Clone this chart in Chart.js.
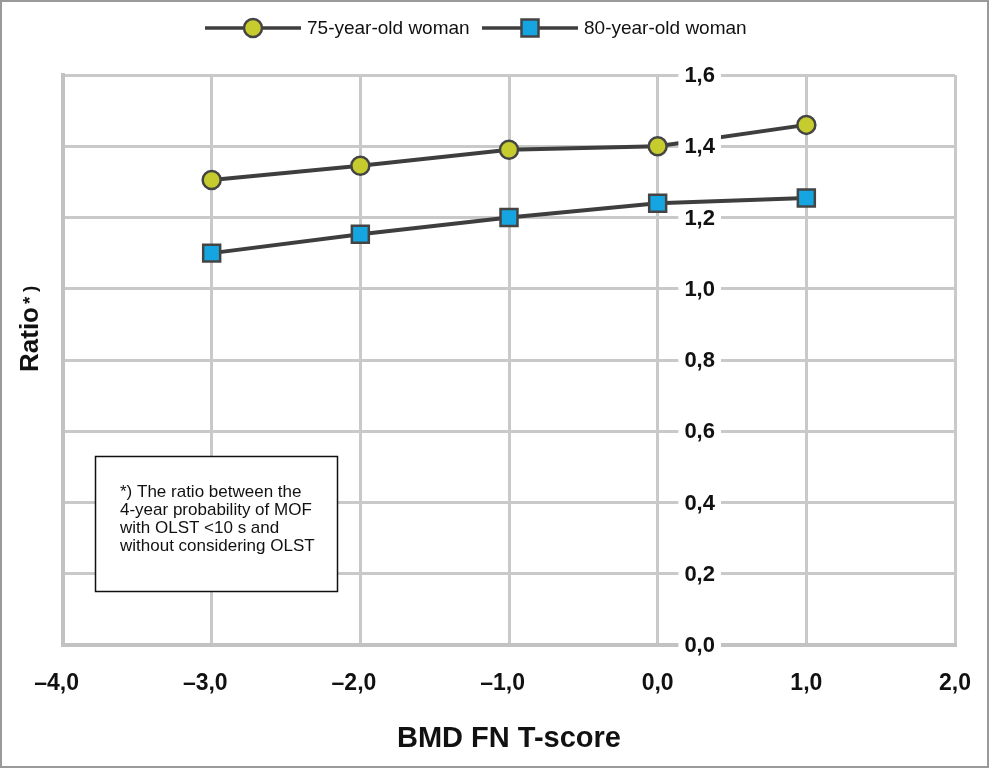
<!DOCTYPE html>
<html>
<head>
<meta charset="utf-8">
<script src="https://cdn.jsdelivr.net/npm/chart.js@4.4.1/dist/chart.umd.min.js"></script>
<style>
  html, body { margin: 0; padding: 0; background: #fff; }
  canvas { display: block; }
</style>
</head>
<body>
<canvas id="ratioChart" width="989" height="768"></canvas>
<script>
// T-score positions and read-off ratios
var tScores = [-3, -2, -1, 0, 1];
var woman75 = [1.305, 1.345, 1.39, 1.40, 1.46];
var woman80 = [1.10, 1.153, 1.20, 1.24, 1.255];
var seriesNames = ['75-year-old woman', '80-year-old woman'];
var xTickLabels = ['\u20134,0', '\u20133,0', '\u20132,0', '\u20131,0', '0,0', '1,0', '2,0'];
var yTickLabels = ['0,0', '0,2', '0,4', '0,6', '0,8', '1,0', '1,2', '1,4', '1,6'];
var noteLines = ['*) The ratio between the', '4-year probability of MOF', 'with OLST <10 s and', 'without considering OLST'];

var FONT = "'Liberation Sans', Arial, Helvetica, sans-serif";
Chart.defaults.font.family = FONT;
Chart.defaults.color = '#111';

function toPoints(ys) {
  return tScores.map(function (x, i) { return { x: x, y: ys[i] }; });
}

var gridGrey = '#c9c9c9';

var extras = {
  id: 'extras',
  afterDraw: function (chart) {
    var ctx = chart.ctx;
    var xs = chart.scales.x, ys = chart.scales.y;
    ctx.save();

    // y tick labels sitting next to the x = 0 axis
    var axisX = xs.getPixelForValue(0);
    ctx.font = 'bold 22px ' + FONT;
    ctx.textAlign = 'center';
    ctx.textBaseline = 'middle';
    ys.ticks.forEach(function (t, i) {
      var py = ys.getPixelForValue(t.value);
      var txt = yTickLabels[i];
      var w = ctx.measureText(txt).width;
      var cx = axisX + 42;
      ctx.fillStyle = '#fff';
      ctx.fillRect(cx - w / 2 - 6, py - 12, w + 12, 24);
      ctx.fillStyle = '#111';
      ctx.fillText(txt, cx, py + 1);
    });

    // footnote box
    ctx.fillStyle = '#fff';
    ctx.fillRect(95, 456, 243, 136);
    ctx.strokeStyle = '#111';
    ctx.lineWidth = 1.5;
    ctx.strokeRect(95.5, 456.5, 242, 135);
    ctx.fillStyle = '#111';
    ctx.font = '17px ' + FONT;
    ctx.textAlign = 'left';
    ctx.textBaseline = 'alphabetic';
    noteLines.forEach(function (l, i) {
      ctx.fillText(l, 120, 497 + i * 18);
    });

    // y title with small *)
    ctx.save();
    ctx.translate(38, 372);
    ctx.rotate(-Math.PI / 2);
    ctx.font = 'bold 26px ' + FONT;
    ctx.fillText('Ratio', 0, 0);
    var rw = ctx.measureText('Ratio').width;
    ctx.font = 'bold 19px ' + FONT;
    ctx.fillText('*', rw + 3, -2);
    ctx.fillText(')', rw + 15, -2);
    ctx.restore();

    // legend: line with marker in the middle
    var centers = [253, 530];
    chart.data.datasets.forEach(function (ds, i) {
      var cx = centers[i], cy = 28;
      ctx.strokeStyle = ds.borderColor;
      ctx.lineWidth = 3.5;
      ctx.beginPath();
      ctx.moveTo(cx - 48, cy);
      ctx.lineTo(cx + 48, cy);
      ctx.stroke();
      ctx.fillStyle = ds.pointBackgroundColor;
      ctx.strokeStyle = ds.pointBorderColor;
      ctx.lineWidth = ds.pointBorderWidth;
      ctx.beginPath();
      if (ds.pointStyle === 'rect') {
        ctx.rect(cx - 8.5, cy - 8.5, 17, 17);
      } else {
        ctx.arc(cx, cy, 9, 0, Math.PI * 2);
      }
      ctx.fill();
      ctx.stroke();
      ctx.fillStyle = '#111';
      ctx.font = '19px ' + FONT;
      ctx.textAlign = 'left';
      ctx.textBaseline = 'middle';
      ctx.fillText(ds.label, cx + 54, cy + 1);
    });

    // outer frame
    ctx.strokeStyle = '#9a9a9a';
    ctx.lineWidth = 2;
    ctx.strokeRect(1, 1, chart.width - 2, chart.height - 2);
    ctx.restore();
  }
};

new Chart(document.getElementById('ratioChart'), {
  type: 'line',
  data: {
    datasets: [{
      label: seriesNames[0],
      data: toPoints(woman75),
      borderColor: '#3e3e3e',
      borderWidth: 4,
      pointStyle: 'circle',
      pointRadius: 9,
      pointBackgroundColor: '#c6cc2d',
      pointBorderColor: '#444',
      pointBorderWidth: 2.5,
      tension: 0,
      clip: false
    }, {
      label: seriesNames[1],
      data: toPoints(woman80),
      borderColor: '#3e3e3e',
      borderWidth: 4,
      pointStyle: 'rect',
      pointRadius: 12,
      pointBackgroundColor: '#15a6e2',
      pointBorderColor: '#444',
      pointBorderWidth: 2.5,
      tension: 0,
      clip: false
    }]
  },
  options: {
    responsive: false,
    animation: false,
    events: [],
    layout: { padding: { left: 63, right: 34, top: 75, bottom: 0 } },
    plugins: { legend: { display: false }, tooltip: { enabled: false } },
    scales: {
      x: {
        type: 'linear',
        min: -4,
        max: 2,
        afterFit: function (s) {
          s.height = 123;
          s.paddingLeft = 0;
          s.paddingRight = 0;
        },
        ticks: {
          stepSize: 1,
          padding: 25,
          font: { size: 23, weight: 'bold' },
          color: '#111',
          callback: function (v) {
            var i = Math.round(v) + 4;
            return xTickLabels[i] + (v < 0 ? '\u2007' : '');
          }
        },
        grid: { color: gridGrey, lineWidth: 3, drawTicks: false },
        border: { display: true, color: '#c2c2c2', width: 4 },
        title: {
          display: true,
          text: 'BMD FN T-score',
          font: { size: 29, weight: 'bold' },
          color: '#111',
          padding: { top: 0, bottom: 12 }
        }
      },
      y: {
        type: 'linear',
        min: 0,
        max: 1.6,
        afterFit: function (s) { s.width = 0; },
        ticks: { stepSize: 0.2, display: false },
        grid: { color: gridGrey, lineWidth: 3, drawTicks: false },
        border: { display: true, color: '#c2c2c2', width: 4 }
      }
    }
  },
  plugins: [extras]
});
</script>
</body>
</html>
